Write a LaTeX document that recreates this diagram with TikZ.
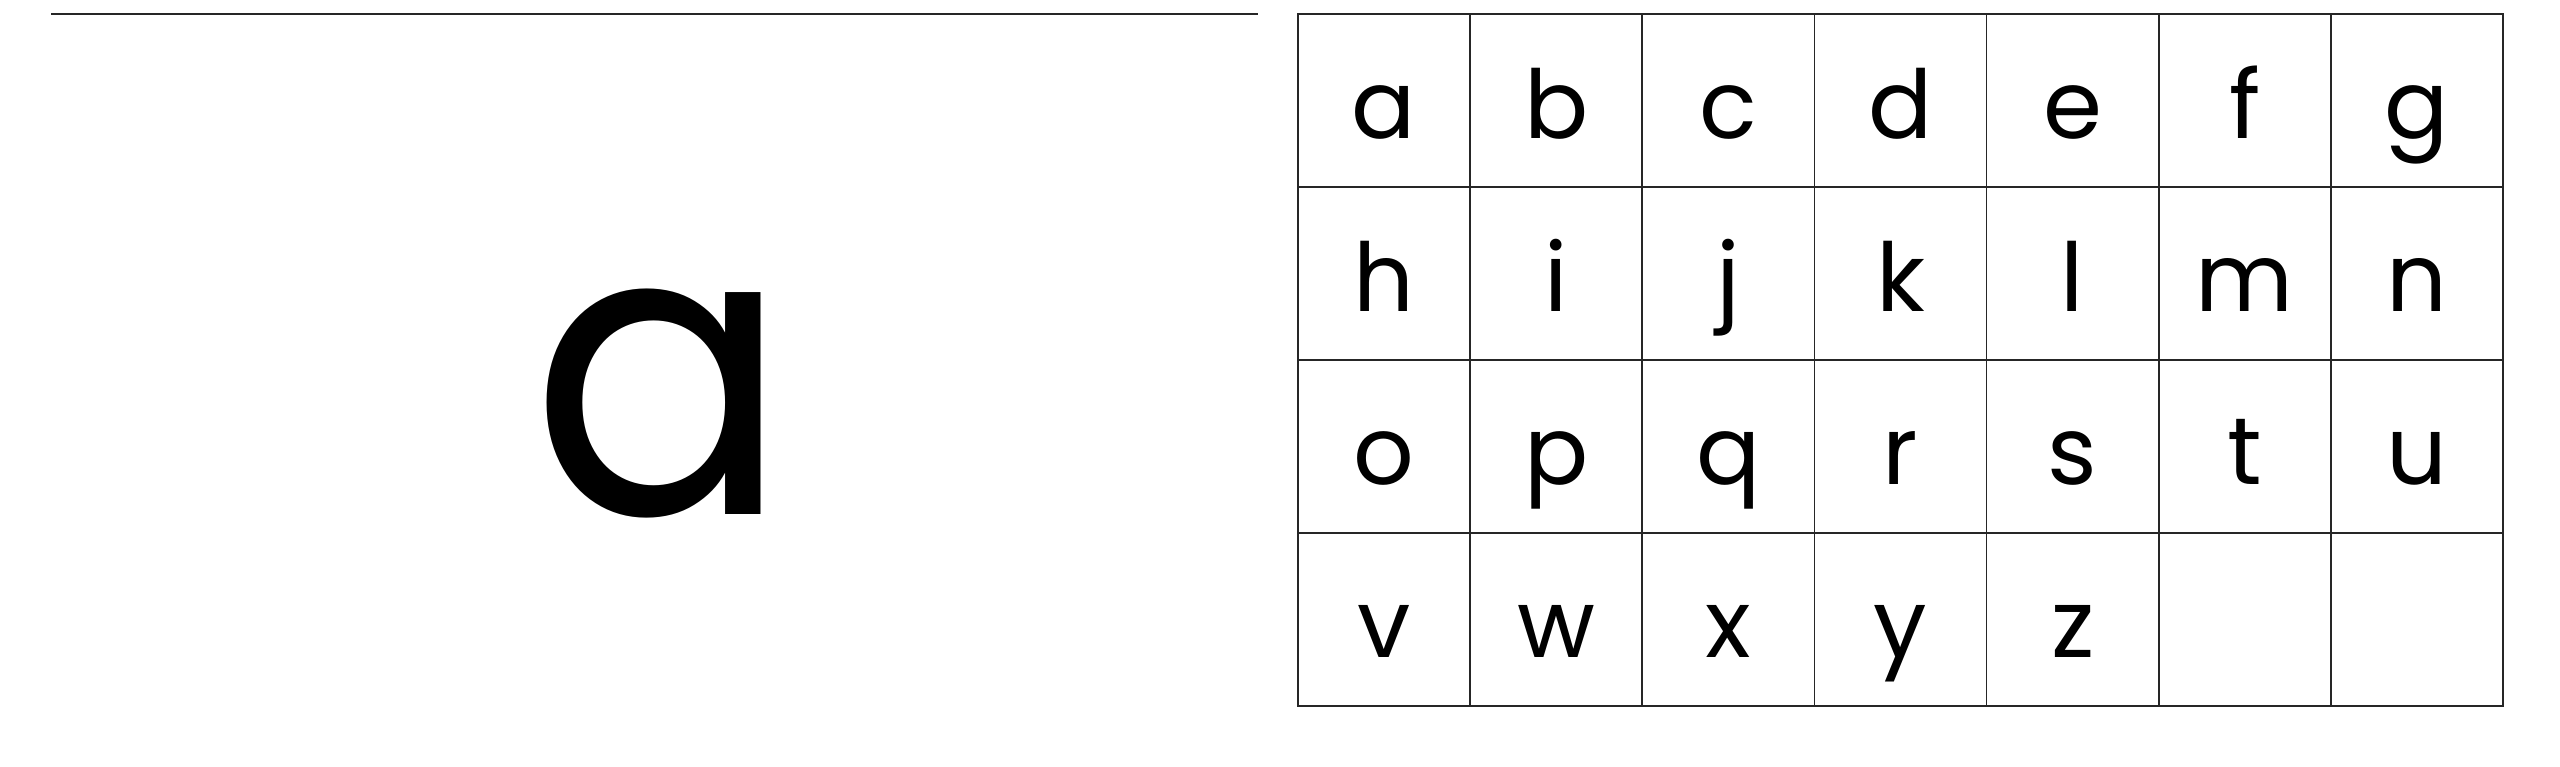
\documentclass[tikz,border=0pt]{standalone}
\usepackage{fontspec}
\setmainfont{Poppins}
\begin{document}
\begin{tikzpicture}[x=1pt,y=-1pt,
  rule/.style={draw=black!85,line width=1.6pt},
  cell/.style={draw=black!85,line width=1.6pt,minimum width=172.14pt,minimum height=173pt,inner sep=0pt},
  glyph/.style={anchor=base,inner sep=0pt,font=\fontsize{95}{95}\selectfont},
  bigglyph/.style={anchor=base,inner sep=0pt,xscale=0.95,font=\fontsize{405}{405}\selectfont}]
\useasboundingbox (0,0) rectangle (2560,766);
\coordinate (L0) at (51,14);
\coordinate (L1) at (1258,14);
\draw[rule] (L0) -- (L1);
\node[bigglyph] (big) at (661,514) {a};
\foreach \k in {0,...,27} {
  \pgfmathtruncatemacro\col{mod(\k,7)}
  \pgfmathtruncatemacro\row{div(\k,7)}
  \node[cell] (c\k) at ({1298+172.14*(\col+0.5)},{14+173*(\row+0.5)}) {};
}
\foreach \ch [count=\k from 0] in {a,b,c,d,e,f,g,h,i,j,k,l,m,n,o,p,q,r,s,t,u,v,w,x,y,z} {
  \pgfmathtruncatemacro\col{mod(\k,7)}
  \pgfmathtruncatemacro\row{div(\k,7)}
  \node[glyph] (g\k) at ({1298+172.14*(\col+0.5)},{14+173*\row+124}) {\ch};
}
\end{tikzpicture}
\end{document}
